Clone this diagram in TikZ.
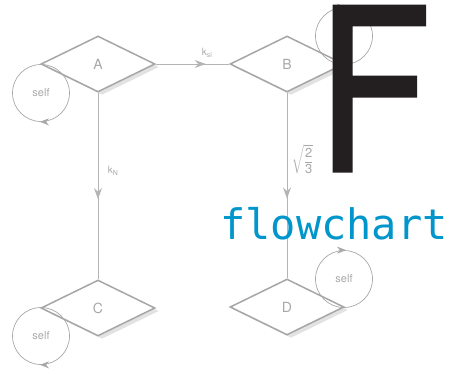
\documentclass[tikz,border=0pt]{standalone}
\usepackage{amsmath}
\usepackage{fontspec}
\setsansfont{TeX Gyre Heros}
\newfontfamily\logomono{DejaVu Sans Mono}
\newfontfamily\logosans[FakeBold=1.5]{TeX Gyre Heros}
\usetikzlibrary{shapes.geometric,arrows.meta,decorations.markings,shadows}
\definecolor{edge}{HTML}{B4B4B4}
\definecolor{frame}{HTML}{A6A6A6}
\definecolor{shade}{HTML}{E2E2E2}
\definecolor{muted}{HTML}{A8A8A8}
\definecolor{ink}{HTML}{231F20}
\definecolor{logo}{HTML}{0096CC}
\tikzset{
  state/.style={diamond, draw=frame, line width=1.5pt, fill=white, aspect=2,
    minimum width=114pt, minimum height=56pt, inner sep=0pt, text=muted,
    font=\sffamily\fontsize{14}{14}\selectfont,
    general shadow={shadow xshift=4pt, shadow yshift=-3pt, fill=shade}},
  selfloop/.style={circle, draw=muted, line width=0.7pt, minimum size=57pt,
    inner sep=0pt, text=muted, font=\sffamily\fontsize{11}{11}\selectfont},
  flow/.style={color=edge, line width=1pt, postaction=decorate,
    decoration={markings, mark=at position #1 with {\arrow{Stealth[length=11pt,width=8pt]}}}},
  tip/.style={-{Stealth[length=9pt,width=7pt]}, color=muted, line width=0.7pt},
  lab/.style={text=muted, font=\sffamily\fontsize{10}{10}\selectfont},
}

\begin{document}
\begin{tikzpicture}[x=1pt,y=-1pt]
  \useasboundingbox (0,0) rectangle (450,373);

  \node[state] (A) at (98,64) {A};
  \node[state] (B) at (287,64) {B};
  \node[state] (C) at (98,308) {C};
  \node[state] (D) at (287,307) {D};

  \draw[flow=0.68] (A.east) -- node[lab, pos=0.7, above=3pt] {k\textsubscript{si}} (B.west);
  \draw[flow=0.57] (A.south) -- node[lab, pos=0.42, right=6pt] {k\textsubscript{N}} (C.north);
  \draw[flow=0.57] (B.south) -- node[lab, pos=0.36, right=1pt, font=\sffamily\fontsize{13}{13}\selectfont]
    {$\displaystyle\sqrt{\frac{\textsf{2}}{\textsf{3}}}$} (D.north);

  % self loops
  \node[selfloop] (selfA) at (41,93) {self};
  \node[selfloop] (selfB) at (344,36) {self};
  \node[selfloop] (selfC) at (41,336) {self};
  \node[selfloop] (selfD) at (344,279) {self};
  \draw[tip] ([xshift=3pt]selfA.south) -- ([xshift=-1pt]selfA.south);
  \draw[tip] ([xshift=3pt]selfC.south) -- ([xshift=-1pt]selfC.south);
  \draw[tip] ([xshift=-2pt]selfB.north) -- ([xshift=2pt]selfB.north);
  \draw[tip] ([xshift=-2pt]selfD.north) -- ([xshift=2pt]selfD.north);

  % logo
  \node[text=ink, inner sep=0pt, anchor=base, font=\logosans\fontsize{226}{226}\selectfont] (bigF) at (374,171) {\scalebox{0.82}[1]{F}};
  \node[text=logo, inner sep=0pt, anchor=base west, font=\logomono\fontsize{42}{42}\selectfont] (word) at (220,239) {flowchart};
\end{tikzpicture}
\end{document}
